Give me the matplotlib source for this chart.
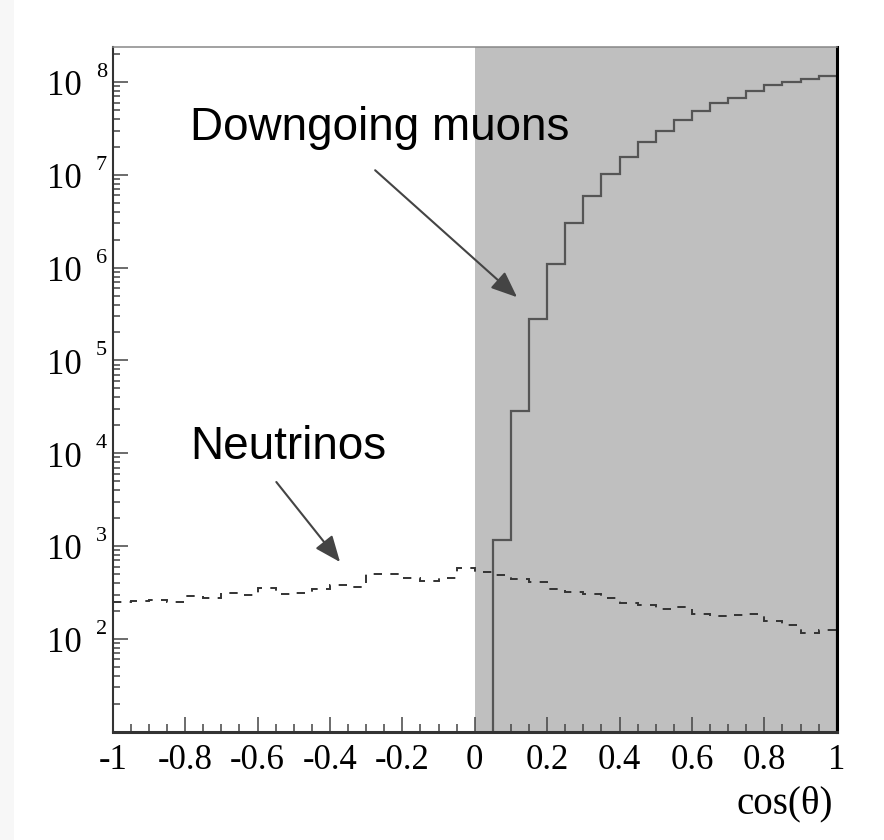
import numpy as np
import matplotlib
matplotlib.use("Agg")
import matplotlib.pyplot as plt
from matplotlib.patches import Rectangle
from matplotlib.ticker import FixedLocator, FixedFormatter, LogLocator, NullFormatter
from matplotlib.transforms import offset_copy

plt.rcParams["axes.unicode_minus"] = False
plt.rcParams["lines.scale_dashes"] = False

# Histogram binning in cos(theta)
nu_edges = np.linspace(-1.0, 1.0, 41)
mu_edges = np.linspace(0.05, 1.0, 20)

# Atmospheric downgoing muons (counts per bin, 0.05 .. 1.0)
muon_counts = [1.15e3, 2.85e4, 2.8e5, 1.09e6, 3.05e6, 5.9e6, 1.01e7, 1.56e7,
               2.26e7, 2.97e7, 3.87e7, 4.85e7, 5.94e7, 6.8e7, 8.0e7, 9.2e7,
               1.0e8, 1.09e8, 1.15e8]

# Atmospheric neutrinos (counts per bin, -1 .. 1)
neutrino_counts = [249, 255, 264, 249, 287, 278, 315, 294, 356, 301,
                   315, 341, 377, 361, 499, 499, 456, 420, 452, 579,
                   525, 492, 446, 409, 341, 319, 301, 278, 243, 230,
                   208, 220, 184, 178, 181, 187, 154, 140, 115, 124]

x_ticks = [-1.0, -0.8, -0.6, -0.4, -0.2, 0.0, 0.2, 0.4, 0.6, 0.8, 1.0]
x_tick_labels = ["-1", "-0.8", "-0.6", "-0.4", "-0.2", "0", "0.2", "0.4", "0.6", "0.8", "1"]
y_exponents = [2, 3, 4, 5, 6, 7, 8]

W, H = 884, 840
fig = plt.figure(figsize=(W / 100, H / 100), dpi=100)
fig.patches.append(Rectangle((0, 0), 14 / W, 1, transform=fig.transFigure,
                             facecolor="#f7f7f7", edgecolor="none", zorder=-10))

ax_l, ax_r, ax_t, ax_b = 112.7, 836.7, 46.7, 731.7
ax = fig.add_axes([ax_l / W, 1 - ax_b / H, (ax_r - ax_l) / W, (ax_b - ax_t) / H])
ax.set_xlim(-1, 1)
ax.set_yscale("log")
ax.set_ylim(10, 2.4e8)

# shaded downgoing hemisphere
ax.axvspan(0, 1, facecolor="#bfbfbf", edgecolor="none", zorder=0)

ax.stairs(muon_counts, mu_edges, baseline=1, color="#555555", lw=1.6, zorder=3)
ax.stairs(neutrino_counts, nu_edges, baseline=None, color="#333333", lw=1.4,
          linestyle=(0, (6, 6)), zorder=3)

# annotations
serif = "Liberation Serif"
sans = "Liberation Sans"
ax.text(-0.786, 2.36e7, "Downgoing muons", family=sans, fontsize=33,
        ha="left", va="baseline", color="black", zorder=5)
ax.text(-0.786, 8.6e3, "Neutrinos", family=sans, fontsize=33,
        ha="left", va="baseline", color="black", zorder=5)
arrow = dict(arrowstyle="-|>,head_length=0.8,head_width=0.33", color="#444444",
             lw=1.5, shrinkA=0, shrinkB=0, mutation_scale=20)
ax.annotate("", xy=(0.117, 4.8e5), xytext=(-0.275, 1.12e7), arrowprops=arrow, zorder=5)
ax.annotate("", xy=(-0.372, 673), xytext=(-0.548, 4.9e3), arrowprops=arrow, zorder=5)

# axes frame
for side in ["top", "right", "left", "bottom"]:
    ax.spines[side].set_zorder(6)
ax.spines["left"].set_color("#333333")
ax.spines["left"].set_linewidth(1.5)
ax.spines["bottom"].set_color("#333333")
ax.spines["bottom"].set_linewidth(2.2)
ax.spines["right"].set_color("black")
ax.spines["right"].set_linewidth(2.2)
ax.spines["top"].set_color("#888888")
ax.spines["top"].set_linewidth(1.1)

# x axis ticks
ax.xaxis.set_major_locator(FixedLocator(x_ticks))
ax.xaxis.set_major_formatter(FixedFormatter(x_tick_labels))
ax.xaxis.set_minor_locator(FixedLocator(np.arange(-1, 1.001, 0.05)))
ax.tick_params(axis="x", which="major", direction="in", length=10.8, width=1.1,
               color="#444444", pad=9, labelsize=25, top=False)
ax.tick_params(axis="x", which="minor", direction="in", length=5.5, width=1.1,
               color="#444444", top=False)
for lab in ax.get_xticklabels():
    lab.set_family(serif)

# y axis ticks
ax.yaxis.set_major_locator(LogLocator(base=10, numticks=20))
ax.yaxis.set_minor_locator(LogLocator(base=10, subs=np.arange(2, 10), numticks=20))
ax.yaxis.set_major_formatter(NullFormatter())
ax.yaxis.set_minor_formatter(NullFormatter())
ax.tick_params(axis="y", which="major", direction="in", length=10.8, width=1.1,
               color="#444444", right=False)
ax.tick_params(axis="y", which="minor", direction="in", length=5.0, width=1.1,
               color="#444444", right=False)

ytrans = ax.get_yaxis_transform()
base_tr = offset_copy(ytrans, fig=fig, x=-31, y=-13.3, units="dots")
exp_tr = offset_copy(ytrans, fig=fig, x=-17, y=5, units="dots")
for e in y_exponents:
    ax.text(0, 10.0 ** e, "10", transform=base_tr, family=serif, fontsize=25,
            ha="right", va="baseline", color="black", clip_on=False)
    ax.text(0, 10.0 ** e, str(e), transform=exp_tr, family=serif, fontsize=16,
            ha="left", va="baseline", color="black", clip_on=False)

fig.text(833 / W, 1 - 813 / H, "cos(\u03b8)", family=serif, fontsize=28,
         ha="right", va="baseline", color="black")

fig.savefig("out.png", dpi=100, facecolor="white")
